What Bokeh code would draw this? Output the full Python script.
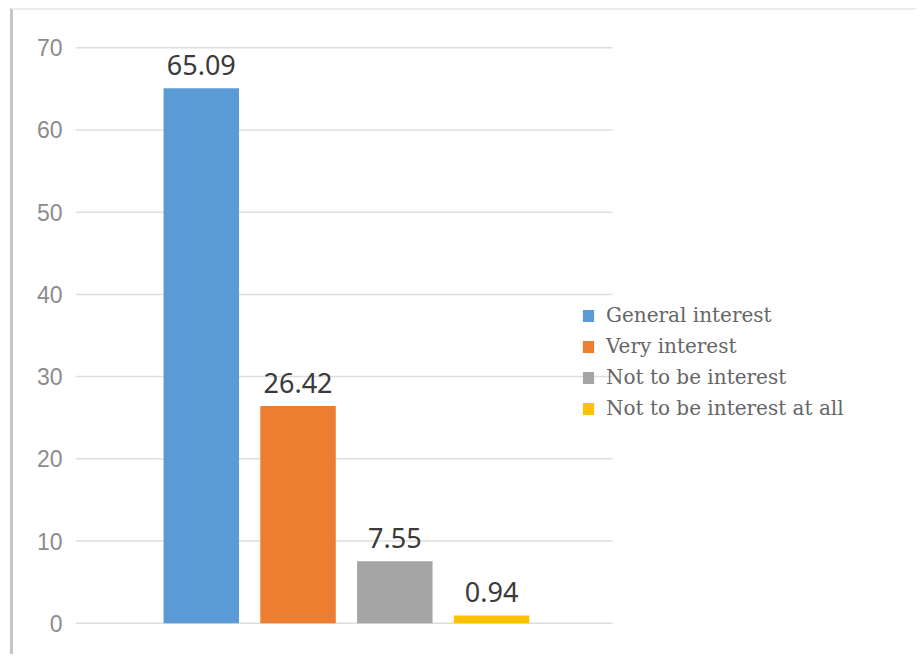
from bokeh.plotting import figure
from bokeh.models import Legend, LegendItem, ColumnDataSource, FixedTicker
from bokeh.embed import file_html
from bokeh.resources import INLINE
from bokeh.core.properties import value

# ---- data ----
categories = ["General interest", "Very interest", "Not to be interest", "Not to be interest at all"]
values = [65.09, 26.42, 7.55, 0.94]
value_labels = ["65.09", "26.42", "7.55", "0.94"]
colors = ["#5b9bd5", "#ed7d31", "#a5a5a5", "#ffc000"]
positions = [1, 2, 3, 4]
y_ticks = [0, 10, 20, 30, 40, 50, 60, 70]

W, H = 906, 646
X_START = -0.3
GRID_END = 5.25
X_END = X_START + (W - 62 - 10) / 96.76

source = ColumnDataSource(dict(x=positions, top=values, label=value_labels,
                               color=colors, cat=categories))

p = figure(width=W, height=H, output_backend="svg", toolbar_location=None,
           x_range=(X_START, X_END), y_range=(-0.4, 70.4),
           min_border_left=62, min_border_right=10,
           min_border_top=34, min_border_bottom=H - 34 - 582)

p.styles = {"border-left": "3px solid #c4c4c4", "border-top": "2px solid #ececec",
            "margin-left": "10px", "margin-top": "8px"}

p.outline_line_color = None
p.background_fill_color = "white"
p.border_fill_color = "white"

p.xaxis.visible = False
p.xgrid.grid_line_color = None
p.ygrid.grid_line_color = None

p.yaxis.ticker = FixedTicker(ticks=y_ticks)
p.yaxis.axis_line_color = None
p.yaxis.major_tick_line_color = None
p.yaxis.minor_tick_line_color = None
p.yaxis.major_tick_out = 0
p.yaxis.major_tick_in = 0
p.yaxis.major_label_standoff = 13
p.yaxis.major_label_text_font = "Liberation Sans"
p.yaxis.major_label_text_font_size = "23px"
p.yaxis.major_label_text_color = "#8c8c8c"

# horizontal gridlines, limited to the chart area left of the legend
p.segment(x0=[X_START] * len(y_ticks), x1=[GRID_END] * len(y_ticks),
          y0=y_ticks, y1=y_ticks, line_color="#dedede", line_width=1.5)

bars = p.vbar(x="x", top="top", width=0.78, bottom=0, source=source,
              fill_color="color", line_color=None)

p.text(x="x", y="top", text="label", source=source,
       text_align="center", text_baseline="alphabetic", y_offset=-23,
       text_font=value("Noto Sans"), text_font_size="27px", text_color="#3a3a3a")

items = [LegendItem(label=categories[i], renderers=[bars], index=i) for i in range(len(categories))]
legend = Legend(items=items, location=(506, 206),
                glyph_width=14, glyph_height=15, label_height=24, spacing=7,
                padding=0, margin=0, label_standoff=11,
                label_text_font="DejaVu Serif", label_text_font_size="20px",
                label_text_color="#666666",
                border_line_color=None, background_fill_alpha=0)
p.add_layout(legend, "center")

open("out.html", "w").write(file_html(p, INLINE))
